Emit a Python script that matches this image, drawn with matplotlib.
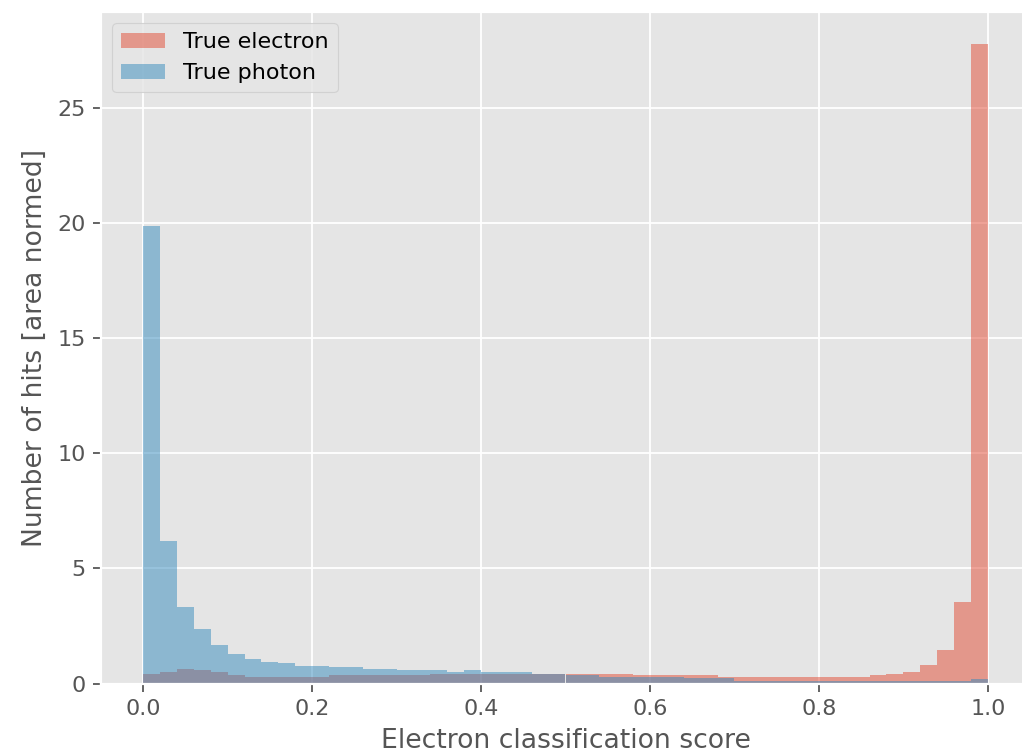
import numpy as np
import matplotlib
matplotlib.use('Agg')
from matplotlib import pyplot as plt

# area-normed histogram heights, 50 bins on [0, 1]
bin_edges = np.linspace(0, 1, 51)

electron = [0.43, 0.52, 0.65, 0.58, 0.50, 0.38, 0.29, 0.29, 0.29, 0.29,
            0.29, 0.37, 0.37, 0.37, 0.37, 0.37, 0.38, 0.43, 0.43, 0.43,
            0.43, 0.43, 0.43, 0.43, 0.43, 0.43, 0.43, 0.43, 0.43, 0.36,
            0.36, 0.36, 0.36, 0.36, 0.29, 0.29, 0.29, 0.29, 0.29, 0.29,
            0.29, 0.29, 0.29, 0.36, 0.43, 0.50, 0.79, 1.44, 3.52, 27.75]

photon = [19.85, 6.17, 3.31, 2.38, 1.65, 1.30, 1.08, 0.94, 0.87, 0.78,
          0.74, 0.72, 0.72, 0.65, 0.65, 0.58, 0.58, 0.58, 0.50, 0.58,
          0.50, 0.50, 0.50, 0.43, 0.43, 0.36, 0.36, 0.29, 0.29, 0.29,
          0.29, 0.29, 0.22, 0.22, 0.22, 0.12, 0.12, 0.12, 0.12, 0.12,
          0.12, 0.12, 0.12, 0.12, 0.12, 0.12, 0.12, 0.12, 0.12, 0.20]

labels = ['True electron', 'True photon']

plt.style.use('ggplot')

fig = plt.figure(figsize=(1022 / 160, 756 / 160), dpi=160)
ax = fig.add_axes([101 / 1022, 72.5 / 756, 929 / 1022, 671.2 / 756])

centers = 0.5 * (bin_edges[:-1] + bin_edges[1:])
ax.hist(centers, bins=bin_edges, weights=electron, alpha=0.5, label=labels[0])
ax.hist(centers, bins=bin_edges, weights=photon, alpha=0.5, label=labels[1])

ax.set_xlabel('Electron classification score')
ax.set_ylabel('Number of hits [area normed]')
ax.legend(loc='upper left')

fig.savefig('out.png', dpi=160)
